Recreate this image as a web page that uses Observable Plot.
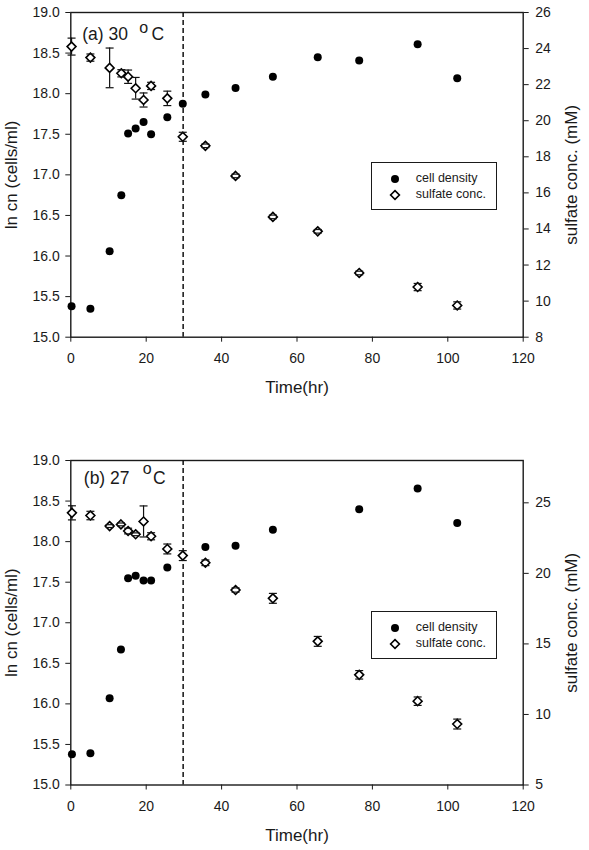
<!DOCTYPE html>
<html>
<head>
<meta charset="utf-8">
<script src="https://cdn.jsdelivr.net/npm/d3@7"></script>
<script src="https://cdn.jsdelivr.net/npm/@observablehq/plot@0.6"></script>
<style>
  body { margin: 0; background: #fff; font-family: "Liberation Sans", Arial, sans-serif; }
  .panel { position: relative; width: 589px; }
  .panel svg { display: block; }
  .legend { position: absolute; box-sizing: border-box; border: 1.3px solid #1a1a1a; background: #fff; width: 126px; height: 48px; }
  .legend .sym { position: absolute; left: 16px; width: 14px; height: 14px; }
  .legend .lab { position: absolute; left: 44px; font-size: 12.5px; line-height: 14px; color: #1a1a1a; white-space: nowrap; }
</style>
</head>
<body>
<div id="chart"></div>
<script>
// ---- data ----
const xTicks = [0, 20, 40, 60, 80, 100, 120];
const lnTicks = [15, 15.5, 16, 16.5, 17, 17.5, 18, 18.5, 19];
const sulfTicksA = [8, 10, 12, 14, 16, 18, 20, 22, 24, 26];
const sulfTicksB = [5, 10, 15, 20, 25];
const legendLabels = ["cell density", "sulfate conc."];

const timeA = [0.2, 5.2, 10.3, 13.4, 15.2, 17.2, 19.3, 21.3, 25.6, 29.7, 35.7, 43.7, 53.6, 65.5, 76.5, 92.0, 102.5];
const cellA = [15.38, 15.35, 16.06, 16.75, 17.51, 17.57, 17.65, 17.50, 17.71, 17.875, 17.99, 18.07, 18.21, 18.45, 18.41, 18.61, 18.19];
const sulfA = [24.11, 23.50, 22.93, 22.63, 22.44, 21.80, 21.15, 21.93, 21.24, 19.11, 18.61, 16.94, 14.67, 13.87, 11.56, 10.78, 9.76];
const sulfErrA = [0.47, 0.2, 1.1, 0.2, 0.37, 0.6, 0.39, 0.2, 0.4, 0.25, 0.1, 0.1, 0.1, 0.1, 0.1, 0.2, 0.2];

const timeB = [0.3, 5.2, 10.3, 13.3, 15.2, 17.2, 19.3, 21.3, 25.6, 29.7, 35.7, 43.7, 53.6, 65.5, 76.5, 92.0, 102.5];
const cellB = [15.38, 15.39, 16.07, 16.67, 17.55, 17.58, 17.52, 17.52, 17.68, null, 17.935, 17.95, 18.145, null, 18.40, 18.655, 18.23];
const sulfB = [24.29, 24.10, 23.35, 23.47, 23.00, 22.77, 23.68, 22.63, 21.73, 21.26, 20.75, 18.82, 18.23, 15.18, 12.81, 10.94, 9.32];
const sulfErrB = [0.5, 0.3, 0.1, 0.1, 0.2, 0.1, 1.1, 0.25, 0.35, 0.35, 0.2, 0.15, 0.35, 0.35, 0.3, 0.3, 0.35];

const dashTime = 29.8;

// ---- drawing ----
const capSym = {draw(ctx, size) { const r = Math.sqrt(size / Math.PI); ctx.moveTo(-r, 0); ctx.lineTo(r, 0); }};

function makePanel(cfg) {
  const toY = s => 15 + (s - cfg.sLo) / (cfg.sHi - cfg.sLo) * 4;
  const fromY = v => cfg.sLo + (v - 15) / 4 * (cfg.sHi - cfg.sLo);
  const rows = cfg.time.map((t, i) => ({t, cell: cfg.cell[i], s: cfg.sulf[i], e: cfg.err[i]}));
  const cells = rows.filter(d => d.cell != null);
  const ink = "#111";
  return Plot.plot({
    width: 589, height: cfg.height,
    marginLeft: 70.3, marginRight: 66.3, marginTop: 12, marginBottom: cfg.marginBottom,
    style: {fontFamily: "Liberation Sans, Arial, sans-serif", fontSize: "14px", color: "#1a1a1a", background: "white", overflow: "visible"},
    x: {domain: [0, 120]},
    y: {domain: [15, 19]},
    marks: [
      Plot.axisX({ticks: xTicks, tickSize: 5, tickPadding: 11, label: null, tickFormat: d => String(d)}),
      Plot.axisY({anchor: "left", ticks: lnTicks, tickSize: 5, tickPadding: 6, tickFormat: d3.format(".1f"), label: null}),
      Plot.axisY({anchor: "right", ticks: cfg.sTicks.map(toY), tickSize: 5, tickPadding: 7,
                  tickFormat: v => String(Math.round(fromY(v))), label: null}),
      Plot.frame({stroke: "#1a1a1a", strokeWidth: 1.4}),
      Plot.ruleX([dashTime], {stroke: ink, strokeWidth: 1.5, strokeDasharray: "5,3"}),
      Plot.ruleX(rows, {x: "t", y1: d => toY(d.s - d.e), y2: d => toY(d.s + d.e), stroke: ink, strokeWidth: 1.2}),
      Plot.dot(cells, {x: "t", y: "cell", r: 4, fill: "#000", stroke: "none"}),
      Plot.dot(rows, {x: "t", y: d => toY(d.s), symbol: "diamond2", r: 4, fill: "white", stroke: "#000", strokeWidth: 1.6}),
      Plot.dot(rows, {x: "t", y: d => toY(d.s + d.e), symbol: capSym, r: 4, fill: "none", stroke: ink, strokeWidth: 1.2}),
      Plot.dot(rows, {x: "t", y: d => toY(d.s - d.e), symbol: capSym, r: 4, fill: "none", stroke: ink, strokeWidth: 1.2}),
      // panel tag with superscript degree "o"
      Plot.text([cfg.tag], {text: d => d, frameAnchor: "top-left", dx: cfg.tagDx, dy: cfg.tagDy, textAnchor: "start", lineAnchor: "middle", fontSize: 17.5, fill: "#1a1a1a"}),
      Plot.text(["o"], {text: d => d, frameAnchor: "top-left", dx: cfg.supDx, dy: cfg.supDy, textAnchor: "start", lineAnchor: "middle", fontSize: 16, fill: "#1a1a1a"}),
      Plot.text(["C"], {text: d => d, frameAnchor: "top-left", dx: cfg.cDx, dy: cfg.tagDy, textAnchor: "start", lineAnchor: "middle", fontSize: 17.5, fill: "#1a1a1a"}),
      // axis titles
      Plot.text(["Time(hr)"], {text: d => d, frameAnchor: "bottom", dy: 50.5, textAnchor: "middle", lineAnchor: "middle", fontSize: 17, fill: "#1a1a1a"}),
      Plot.text(["ln cn (cells/ml)"], {text: d => d, frameAnchor: "left", dx: -59.7, rotate: -90, textAnchor: "middle", lineAnchor: "middle", fontSize: 17, fill: "#1a1a1a"}),
      Plot.text(["sulfate conc. (mM)"], {text: d => d, frameAnchor: "right", dx: 48.5, rotate: -90, textAnchor: "middle", lineAnchor: "middle", fontSize: 17, fill: "#1a1a1a"})
    ]
  });
}

function makeLegend(top) {
  const lg = document.createElement("div");
  lg.className = "legend";
  lg.style.left = "370.7px";
  lg.style.top = top + "px";
  const ys = [15.5, 31.5];
  legendLabels.forEach((lab, i) => {
    const s = document.createElementNS("http://www.w3.org/2000/svg", "svg");
    s.setAttribute("class", "sym");
    s.style.top = (ys[i] - 7) + "px";
    s.setAttribute("viewBox", "-7 -7 14 14");
    if (i === 0) {
      s.innerHTML = '<circle r="4" fill="#000"></circle>';
    } else {
      s.innerHTML = '<path d="M0,-4.4L4.4,0L0,4.4L-4.4,0Z" fill="#fff" stroke="#000" stroke-width="1.6"></path>';
    }
    lg.appendChild(s);
    const t = document.createElement("div");
    t.className = "lab";
    t.style.top = (ys[i] - 7.5) + "px";
    t.textContent = lab;
    lg.appendChild(t);
  });
  return lg;
}

const root = document.getElementById("chart");

const p1 = document.createElement("div"); p1.className = "panel";
p1.appendChild(makePanel({
  time: timeA, cell: cellA, sulf: sulfA, err: sulfErrA, sLo: 8, sHi: 26, sTicks: sulfTicksA,
  height: 448, marginBottom: 111.3, tag: "(a) 30",
  tagDx: 11.4, tagDy: 21.4, supDx: 68.5, supDy: 14.9, cDx: 80.8
}));
p1.appendChild(makeLegend(162.3));
root.appendChild(p1);

const p2 = document.createElement("div"); p2.className = "panel";
p2.appendChild(makePanel({
  time: timeB, cell: cellB, sulf: sulfB, err: sulfErrB, sLo: 5, sHi: 28, sTicks: sulfTicksB,
  height: 402, marginBottom: 65.5, tag: "(b) 27",
  tagDx: 13, tagDy: 17.7, supDx: 72, supDy: 7.9, cDx: 82.2
}));
p2.appendChild(makeLegend(163));
root.appendChild(p2);
</script>
</body>
</html>
